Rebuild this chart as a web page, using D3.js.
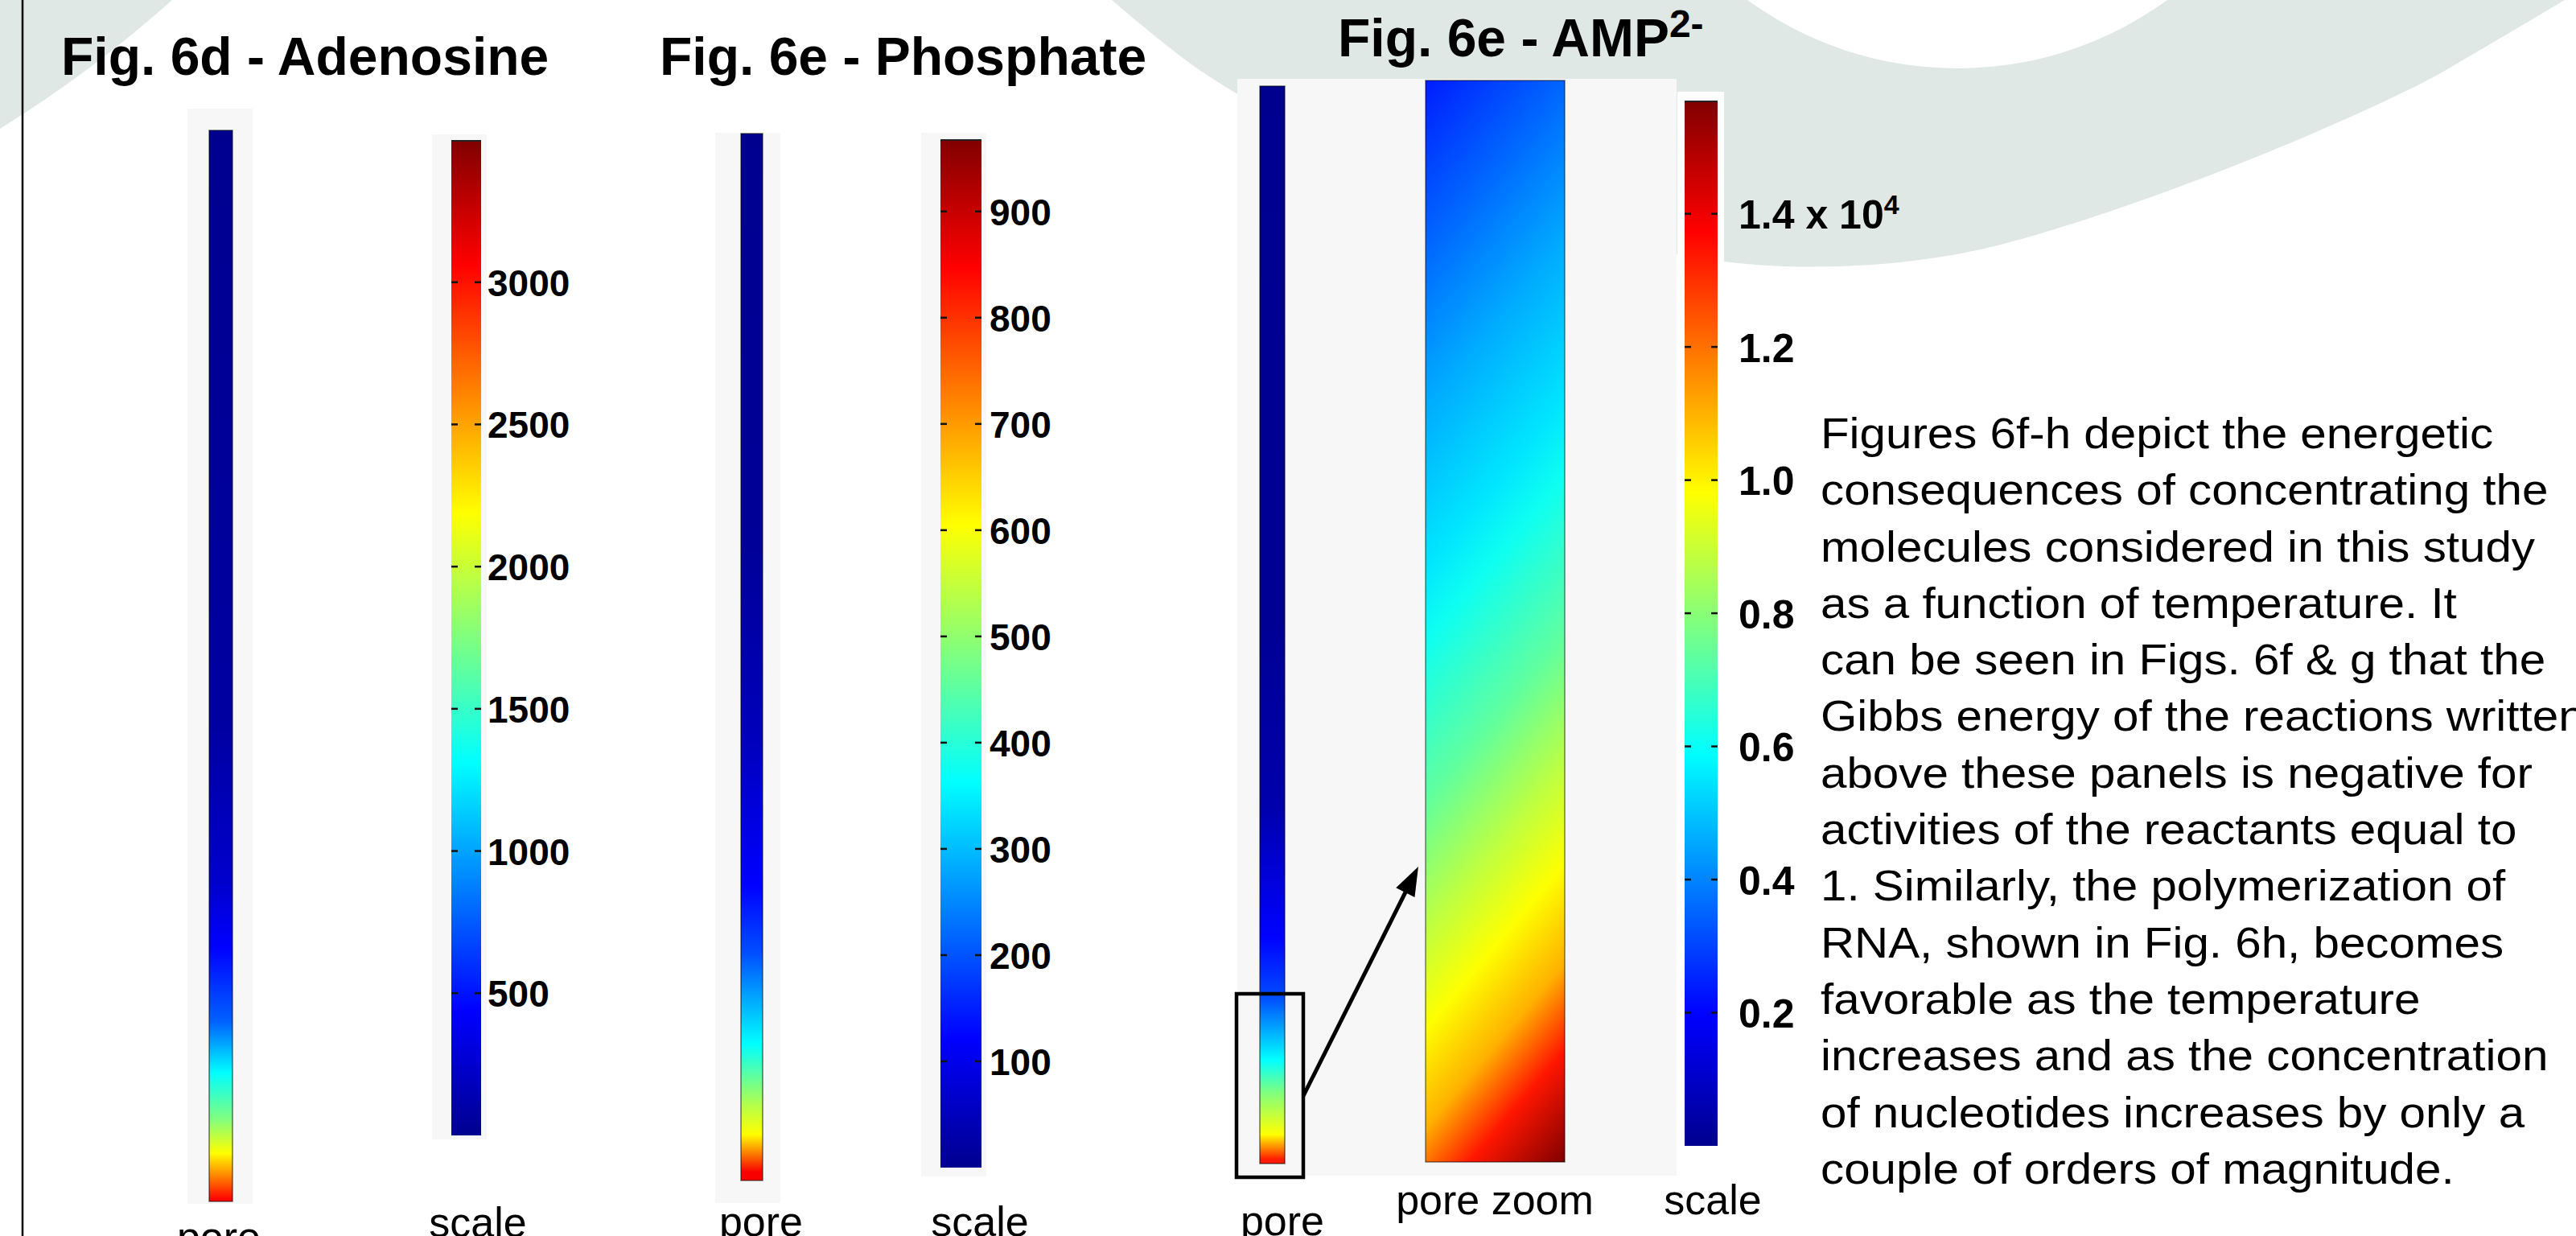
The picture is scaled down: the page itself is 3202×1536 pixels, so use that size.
<!DOCTYPE html>
<html>
<head>
<meta charset="utf-8">
<script src="https://cdn.jsdelivr.net/npm/d3@7"></script>
<style>
html, body { margin: 0; padding: 0; background: #fff; overflow: hidden; }
svg { display: block; }
</style>
</head>
<body>
<div id="chart"></div>
<script>
////////////////////////////////////////////////////
// data read off the poster
////////////////////////////////////////////////////
// colour bar ranges and tick values
var adenosineRange = [0, 3500];
var adenosineTicks = [500, 1000, 1500, 2000, 2500, 3000];
var phosphateRange = [0, 968];
var phosphateTicks = [100, 200, 300, 400, 500, 600, 700, 800, 900];
var ampRange = [0, 1.57];            // x 10^4
var ampTicks = [0.2, 0.4, 0.6, 0.8, 1.0, 1.2, 1.4];

// concentration along each pore : position from the bottom (0) to the top (1)
var adenosinePos  = [0.002, 0.023, 0.045, 0.077, 0.12, 0.168, 0.237, 0.295, 0.445, 1];
var adenosineConc = [3050, 2625, 2190, 1750, 1310, 770, 440, 245, 70, 0];
var phosphatePos  = [0.008, 0.044, 0.072, 0.13, 0.218, 0.282, 0.42, 0.61, 1];
var phosphateConc = [854, 606, 534, 364, 194, 121, 49, 10, 0];
var ampPos  = [0.004, 0.027, 0.065, 0.096, 0.155, 0.21, 0.333, 0.5, 1];
var ampConc = [1.33, 0.98, 0.79, 0.59, 0.31, 0.2, 0.05, 0.01, 0];

// pore zoom : concentration across the tilted field, top-left (0) to bottom-right (1)
var zoomPos  = [0, 0.13, 0.26, 0.39, 0.45, 0.58, 0.68, 0.76, 0.84, 0.91, 1];
var zoomConc = [0.24, 0.35, 0.46, 0.55, 0.61, 0.74, 0.88, 0.98, 1.10, 1.34, 1.57];

var paragraphLines = [
	"Figures 6f-h depict the energetic",
	"consequences of concentrating the",
	"molecules considered in this study",
	"as a function of temperature. It",
	"can be seen in Figs. 6f & g that the",
	"Gibbs energy of the reactions written",
	"above these panels is negative for",
	"activities of the reactants equal to",
	"1. Similarly, the polymerization of",
	"RNA, shown in Fig. 6h, becomes",
	"favorable as the temperature",
	"increases and as the concentration",
	"of nucleotides increases by only a",
	"couple of orders of magnitude."
];
////////////////////////////////////////////////////

var W = 3202, H = 1536;
var FONT = "'Liberation Sans', Arial, Helvetica, sans-serif";
var DECO = "#dfe8e4";
var BOX = "#f7f7f7";

// matlab "jet"
var jetStops = [0, 0.125, 0.375, 0.625, 0.875, 1];
var jetColors = ["#00008f", "#0000ff", "#00ffff", "#ffff00", "#ff0000", "#800000"];
function jetScale(range) {
	return d3.scaleLinear()
		.domain(jetStops.map(function(t) { return range[0] + t * (range[1] - range[0]); }))
		.range(jetColors)
		.clamp(true);
}

var svg = d3.select("#chart").append("svg")
	.attr("width", W)
	.attr("height", H);
var defs = svg.append("defs");

////////////////////////////////////////////////////
// background decoration
////////////////////////////////////////////////////
var deco = svg.append("g");
deco.append("path")
	.attr("d", "M0,0 L214,0 Q113,90 0,160 Z")
	.attr("fill", DECO);
var ringPts = [[1382,0],[1500,93],[1700,202],[1900,276],[2143,325],[2284,331],[2420,318],
	[2537,290],[2767,210],[2997,110],[3100,52],[3188,0]];
deco.append("path")
	.attr("d", d3.line().curve(d3.curveCatmullRom)(ringPts) + "L3188,-20L1382,-20Z")
	.attr("fill", DECO);
deco.append("circle")
	.attr("cx", 2433).attr("cy", -358).attr("r", 443)
	.attr("fill", "#fff");

svg.append("line")
	.attr("x1", 28).attr("x2", 28).attr("y1", 0).attr("y2", H)
	.attr("stroke", "#000").attr("stroke-width", 2.5);

////////////////////////////////////////////////////
// helpers
////////////////////////////////////////////////////
function poreBar(id, box, pos, conc, color) {
	var grad = defs.append("linearGradient")
		.attr("id", id)
		.attr("x1", 0).attr("y1", 1).attr("x2", 0).attr("y2", 0);
	grad.selectAll("stop")
		.data(pos.map(function(p, i) { return {p: p, v: conc[i]}; }))
		.enter().append("stop")
			.attr("offset", function(d) { return d.p; })
			.attr("stop-color", function(d) { return color(d.v); });
	svg.append("rect")
		.attr("x", box.x).attr("y", box.y)
		.attr("width", box.w).attr("height", box.h)
		.attr("fill", "url(#" + id + ")")
		.attr("stroke", "rgba(0,0,0,0.55)")
		.attr("stroke-width", 1.5);
}

function colourBar(id, box, range, ticks, color, labelGap, fontSize, fmt) {
	var y = d3.scaleLinear().domain(range).range([box.y + box.h, box.y]);
	var grad = defs.append("linearGradient")
		.attr("id", id)
		.attr("x1", 0).attr("y1", 1).attr("x2", 0).attr("y2", 0);
	grad.selectAll("stop")
		.data(jetStops)
		.enter().append("stop")
			.attr("offset", function(t) { return t; })
			.attr("stop-color", function(t) { return color(range[0] + t * (range[1] - range[0])); });
	svg.append("rect")
		.attr("x", box.x).attr("y", box.y)
		.attr("width", box.w).attr("height", box.h)
		.attr("fill", "url(#" + id + ")");
	svg.append("line")
		.attr("x1", box.x).attr("x2", box.x + box.w)
		.attr("y1", box.y + 1).attr("y2", box.y + 1)
		.attr("stroke", "#222").attr("stroke-width", 2);

	// little dashes on both inner edges
	var tk = svg.append("g");
	tk.selectAll("l1").data(ticks).enter().append("line")
		.attr("x1", box.x).attr("x2", box.x + 8)
		.attr("y1", function(d) { return y(d); }).attr("y2", function(d) { return y(d); })
		.attr("stroke", "#111").attr("stroke-width", 2.5);
	tk.selectAll("l2").data(ticks).enter().append("line")
		.attr("x1", box.x + box.w - 8).attr("x2", box.x + box.w)
		.attr("y1", function(d) { return y(d); }).attr("y2", function(d) { return y(d); })
		.attr("stroke", "#111").attr("stroke-width", 2.5);

	var ax = svg.append("g")
		.attr("transform", "translate(" + (box.x + box.w + labelGap) + ",0)")
		.call(d3.axisRight(y).tickValues(ticks).tickSize(0).tickPadding(0).tickFormat(fmt));
	ax.select(".domain").remove();
	ax.selectAll("text")
		.attr("font-family", FONT)
		.attr("font-size", fontSize)
		.attr("font-weight", "bold")
		.attr("fill", "#000")
		.attr("dy", "0.36em");
	return ax;
}

function label(x, y, txt) {
	svg.append("text")
		.attr("x", x).attr("y", y)
		.attr("text-anchor", "middle")
		.attr("font-family", FONT)
		.attr("font-size", 52)
		.attr("fill", "#000")
		.text(txt);
}

function title(x, y, txt) {
	return svg.append("text")
		.attr("x", x).attr("y", y)
		.attr("font-family", FONT)
		.attr("font-size", 66)
		.attr("font-weight", "bold")
		.attr("fill", "#000")
		.text(txt);
}

////////////////////////////////////////////////////
// Fig. 6d - Adenosine
////////////////////////////////////////////////////
var cAd = jetScale(adenosineRange);
title(76, 93, "Fig. 6d - Adenosine");
svg.append("rect").attr("x", 233).attr("y", 135).attr("width", 81).attr("height", 1361).attr("fill", BOX);
svg.append("rect").attr("x", 537).attr("y", 167).attr("width", 68).attr("height", 1249).attr("fill", BOX);
poreBar("gAdPore", {x: 260, y: 162, w: 29, h: 1331}, adenosinePos, adenosineConc, cAd);
colourBar("gAdScale", {x: 561, y: 174, w: 37, h: 1237}, adenosineRange, adenosineTicks, cAd, 8, 46, d3.format("d"));
label(272, 1555, "pore");
label(594, 1537, "scale");

////////////////////////////////////////////////////
// Fig. 6e - Phosphate
////////////////////////////////////////////////////
var cPh = jetScale(phosphateRange);
title(820, 93, "Fig. 6e - Phosphate");
svg.append("rect").attr("x", 889).attr("y", 165).attr("width", 81).attr("height", 1330).attr("fill", BOX);
svg.append("rect").attr("x", 1145).attr("y", 165).attr("width", 81).attr("height", 1297).attr("fill", BOX);
poreBar("gPhPore", {x: 921, y: 166, w: 27, h: 1301}, phosphatePos, phosphateConc, cPh);
colourBar("gPhScale", {x: 1169, y: 173, w: 51, h: 1278}, phosphateRange, phosphateTicks, cPh, 10, 46, d3.format("d"));
label(946, 1536, "pore");
label(1218, 1536, "scale");

////////////////////////////////////////////////////
// Fig. 6e - AMP2-
////////////////////////////////////////////////////
var cAmp = jetScale(ampRange);
var t3 = title(1663, 70, "Fig. 6e - AMP");
t3.append("tspan").attr("font-size", 48).attr("dy", -24).text("2-");

svg.append("rect").attr("x", 1538).attr("y", 98).attr("width", 546).attr("height", 1363).attr("fill", BOX);
svg.append("rect").attr("x", 2085).attr("y", 114).attr("width", 58).attr("height", 1326).attr("fill", "#fff");
poreBar("gAmpPore", {x: 1566, y: 107, w: 31, h: 1339}, ampPos, ampConc, cAmp);

// pore zoom : field tilted, iso-lines rising to the right
var zb = {x: 1772, y: 100, w: 173, h: 1344};
var drop = 205, nl = Math.sqrt(drop * drop + zb.w * zb.w);
var nx = drop / nl, ny = zb.w / nl;
var len = zb.w * nx + zb.h * ny;
var zg = defs.append("linearGradient")
	.attr("id", "gAmpZoom")
	.attr("gradientUnits", "userSpaceOnUse")
	.attr("x1", zb.x).attr("y1", zb.y)
	.attr("x2", zb.x + nx * len).attr("y2", zb.y + ny * len);
zg.selectAll("stop")
	.data(zoomPos.map(function(p, i) { return {p: p, v: zoomConc[i]}; }))
	.enter().append("stop")
		.attr("offset", function(d) { return d.p; })
		.attr("stop-color", function(d) { return cAmp(d.v); });
svg.append("rect")
	.attr("x", zb.x).attr("y", zb.y).attr("width", zb.w).attr("height", zb.h)
	.attr("fill", "url(#gAmpZoom)")
	.attr("stroke", "rgba(0,0,0,0.5)").attr("stroke-width", 1.5);

var axAmp = colourBar("gAmpScale", {x: 2094, y: 125, w: 41, h: 1299}, ampRange, ampTicks, cAmp, 26, 50, d3.format(".1f"));
axAmp.selectAll(".tick text")
	.filter(function(d) { return d === 1.4; })
	.text("1.4 x 10")
	.append("tspan").attr("font-size", 34).attr("dy", -18).text("4");

// zoom box + arrow
svg.append("rect")
	.attr("x", 1537).attr("y", 1235).attr("width", 83).attr("height", 228)
	.attr("fill", "none").attr("stroke", "#000").attr("stroke-width", 4.5);
var a0 = [1620, 1362], a1 = [1763, 1077];
var ang = Math.atan2(a1[1] - a0[1], a1[0] - a0[0]);
var hl = 36, hw = 13;
svg.append("line")
	.attr("x1", a0[0]).attr("y1", a0[1])
	.attr("x2", a1[0] - Math.cos(ang) * hl * 0.8).attr("y2", a1[1] - Math.sin(ang) * hl * 0.8)
	.attr("stroke", "#000").attr("stroke-width", 5);
var bx = a1[0] - Math.cos(ang) * hl, by = a1[1] - Math.sin(ang) * hl;
svg.append("polygon")
	.attr("points", [
		[a1[0], a1[1]],
		[bx + Math.sin(ang) * hw, by - Math.cos(ang) * hw],
		[bx - Math.sin(ang) * hw, by + Math.cos(ang) * hw]
	].map(function(p) { return p.join(","); }).join(" "))
	.attr("fill", "#000");

label(1594, 1535, "pore");
label(1858, 1509, "pore zoom");
label(2129, 1509, "scale");

////////////////////////////////////////////////////
// text block
////////////////////////////////////////////////////
var para = svg.append("g")
	.attr("transform", "translate(2263,0) scale(1.08,1)");
para.selectAll("text")
	.data(paragraphLines)
	.enter().append("text")
		.attr("x", 0)
		.attr("y", function(d, i) { return 557 + i * 70.3; })
		.attr("font-family", FONT)
		.attr("font-size", 54)
		.attr("fill", "#000")
		.text(function(d) { return d; });
</script>
</body>
</html>
